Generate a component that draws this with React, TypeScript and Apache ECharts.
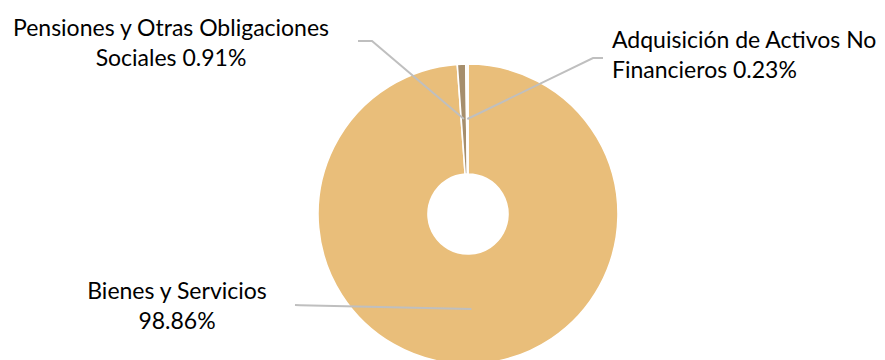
import React, { useEffect, useRef } from "react";
import * as echarts from "echarts";

const categories = [
  "Bienes y Servicios",
  "Pensiones y Otras Obligaciones Sociales",
  "Adquisición de Activos No Financieros",
];
const labelNames = [
  "Bienes y Servicios\n",
  "Pensiones y Otras Obligaciones\nSociales ",
  "Adquisición de Activos No\nFinancieros ",
];
const values = [98.86, 0.91, 0.23];
const colors = ["#E9BE7A", "#A68E6C", "#FBF5EC"];

const CX = 468;
const CY = 214;
const R0 = 40;
const R1 = 150;
const RMID = 95;

// label placement (layout only)
const labelPlacement = [
  { x: 177, y: 304.5, align: "center", bend: [[300, 305.2], [295, 305]] },
  { x: 171, y: 42, align: "center", bend: [[372, 41], [358, 41]] },
  { x: 612, y: 54, align: "left", bend: [[593, 58], [603, 58]] },
];

export default function App() {
  const ref = useRef<HTMLDivElement>(null);
  useEffect(() => {
    document.body.style.margin = "0";
    if (!ref.current) return;
    const chart = echarts.init(ref.current, undefined, { renderer: "svg" });
    const total = values.reduce((a, b) => a + b, 0);
    const midPoint = (idx: number) => {
      let before = 0;
      for (let i = 0; i < idx; i++) before += values[i];
      const frac = (before + values[idx] / 2) / total;
      const ang = frac * Math.PI * 2; // clockwise from top
      return [CX + RMID * Math.sin(ang), CY - RMID * Math.cos(ang)];
    };
    const leaderLines = values.map((_, i) => ({
      type: "polyline",
      silent: true,
      z: 10,
      shape: { points: [midPoint(i), labelPlacement[i].bend[0], labelPlacement[i].bend[1]] },
      style: { stroke: "#BFBFBF", lineWidth: 2, fill: null },
    }));
    chart.setOption({
      animation: false,
      backgroundColor: "#ffffff",
      graphic: { elements: leaderLines },
      series: [
        {
          type: "pie",
          center: [CX, CY],
          radius: [R0, R1],
          startAngle: 90,
          clockwise: true,
          avoidLabelOverlap: false,
          data: categories.map((name, i) => ({
            name,
            value: values[i],
            itemStyle: { color: colors[i] },
          })),
          itemStyle: { borderColor: "#ffffff", borderWidth: 1.6 },
          label: {
            show: true,
            position: "outside",
            formatter: (p: any) =>
              labelNames[p.dataIndex] + Number(p.value).toFixed(2) + "%",
            fontFamily: "Lato",
            fontSize: 23,
            lineHeight: 30,
            color: "#000000",
          },
          labelLine: { show: false },
          labelLayout: (params: any) => {
            const pl = labelPlacement[params.dataIndex];
            return {
              x: pl.x,
              y: pl.y,
              align: pl.align,
              verticalAlign: "middle",
            };
          },
          emphasis: { disabled: true },
        },
      ],
    });
    return () => chart.dispose();
  }, []);
  return <div ref={ref} style={{ width: 885, height: 360 }} />;
}
